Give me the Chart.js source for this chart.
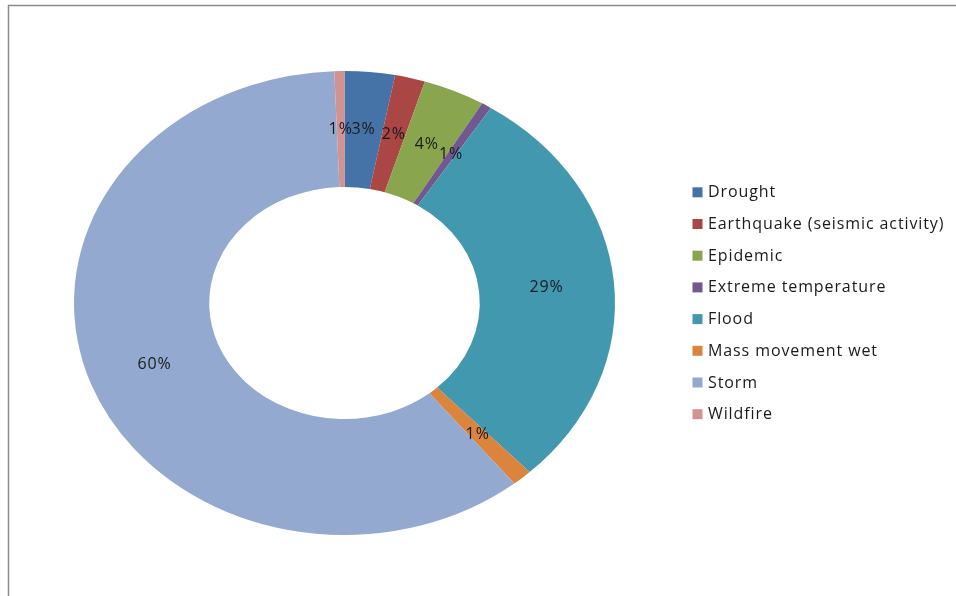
<!DOCTYPE html>
<html>
<head>
<meta charset="utf-8">
<script src="https://cdn.jsdelivr.net/npm/chart.js@4"></script>
<style>
  html, body { margin: 0; padding: 0; background: #fff; }
  #wrap { position: relative; width: 956px; height: 596px; }
</style>
</head>
<body>
<div id="wrap"><canvas id="c"></canvas></div>
<script>
// ---- data ----
const categories = ['Drought', 'Earthquake (seismic activity)', 'Epidemic', 'Extreme temperature', 'Flood', 'Mass movement wet', 'Storm', 'Wildfire'];
const shares = [3.0, 1.8, 3.7, 0.6, 28.9, 1.2, 60.2, 0.6];
const shareLabels = ['3%', '2%', '4%', '1%', '29%', '1%', '60%', '1%'];
const colors = ['#4572A7', '#AA4643', '#89A54E', '#71588F', '#4198AF', '#DB843D', '#93A9CF', '#D19392'];

// ---- layout constants ----
const CX = 344.5, CY = 303, STRETCH_X = 270.5 / 232;
const FONT = '16px "Open Sans", "DejaVu Sans", sans-serif';
const SPACING = '0.9px';

const ellipsePlugin = {
  id: 'ellipse',
  beforeDraw(chart) {
    const ctx = chart.ctx;
    ctx.save();
    ctx.strokeStyle = '#8c8c8c';
    ctx.lineWidth = 1.5;
    ctx.beginPath();
    ctx.moveTo(8.5, 600);
    ctx.lineTo(8.5, 5.5);
    ctx.lineTo(960, 5.5);
    ctx.stroke();
    ctx.restore();
  },
  beforeDatasetsDraw(chart) {
    const ctx = chart.ctx;
    const a = chart.getDatasetMeta(0).data[0];
    ctx.save();
    ctx.translate(a.x, a.y);
    ctx.scale(STRETCH_X, 1);
    ctx.translate(-a.x, -a.y);
  },
  afterDatasetsDraw(chart) {
    const ctx = chart.ctx;
    ctx.restore();
    // data labels
    const meta = chart.getDatasetMeta(0);
    ctx.save();
    ctx.font = FONT;
    ctx.letterSpacing = SPACING;
    ctx.fillStyle = '#1a1a1a';
    ctx.textAlign = 'center';
    ctx.textBaseline = 'middle';
    meta.data.forEach((arc, i) => {
      const p = arc.tooltipPosition();
      const x = arc.x + (p.x - arc.x) * STRETCH_X;
      ctx.fillText(shareLabels[i], x, p.y);
    });
    ctx.restore();
    // legend
    ctx.save();
    ctx.font = FONT;
    ctx.letterSpacing = SPACING;
    ctx.textAlign = 'left';
    ctx.textBaseline = 'middle';
    const y0 = 192.3, dy = 31.7;
    chart.data.labels.forEach((lab, i) => {
      const y = y0 + i * dy;
      ctx.fillStyle = colors[i];
      ctx.fillRect(692.5, y - 5, 10, 10);
      ctx.fillStyle = '#1a1a1a';
      ctx.fillText(lab, 708, y + 0.5);
    });
    ctx.restore();
  }
};

new Chart(document.getElementById('c'), {
  type: 'doughnut',
  data: {
    labels: categories,
    datasets: [{
      data: shares,
      backgroundColor: colors,
      borderWidth: 0,
      hoverOffset: 0
    }]
  },
  options: {
    responsive: true,
    maintainAspectRatio: false,
    animation: false,
    cutout: '50%',
    layout: { padding: { top: 71, bottom: 61, left: CX - 232, right: 956 - (CX + 232) } },
    plugins: {
      legend: { display: false },
      tooltip: { enabled: false }
    }
  },
  plugins: [ellipsePlugin]
});
</script>
</body>
</html>
